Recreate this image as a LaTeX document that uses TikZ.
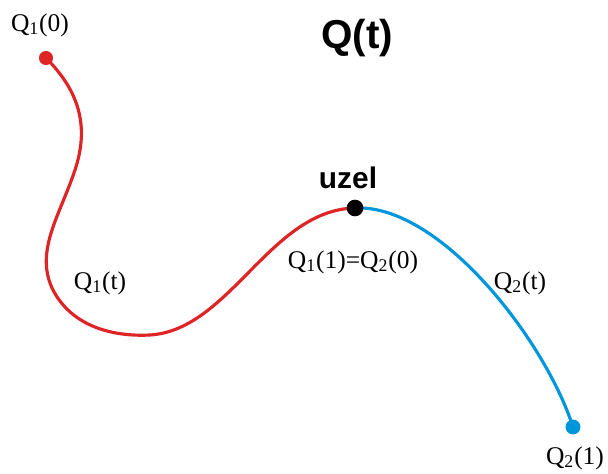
\documentclass[tikz,border=0pt]{standalone}
\usepackage{fontspec}
\setmainfont{Liberation Serif}
\setsansfont{Liberation Sans}
\definecolor{qred}{RGB}{222,36,36}
\definecolor{qblue}{RGB}{0,150,220}
\tikzset{
  dot/.style={circle,fill=#1,inner sep=0pt,minimum size=8pt},
  lbl/.style={font=\fontsize{14.5}{16}\selectfont},
  bold/.style={font=\sffamily\bfseries\fontsize{#1}{#1}\selectfont},
  curve/.style={line width=1.8pt}
}

\begin{document}
\begin{tikzpicture}[x=0.02cm,y=-0.02cm]
  \useasboundingbox (0,0) rectangle (608,473);
  \coordinate (q10) at (46,58);
  \coordinate (knot) at (355,208);
  \coordinate (q21) at (573,427);
  \draw[curve,qred] (q10) .. controls (78,90) and (90,125) .. (75,170)
    .. controls (60,215) and (35,250) .. (52,288)
    .. controls (70,325) and (110,337) .. (150,335)
    .. controls (230,330) and (270,210) .. (knot);
  \draw[curve,qblue] (knot) .. controls (440,204) and (545,340) .. (q21);
  \node[dot=qred] (d10) at (q10) {};
  \node[dot=black,minimum size=9.5pt] (dknot) at (knot) {};
  \node[dot=qblue,minimum size=8.5pt] (d21) at (q21) {};
  \node[lbl] (l10) at (40,25) {Q\textsubscript{1}(0)};
  \node[bold=23] (title) at (357,38) {Q(t)};
  \node[bold=17] (uzel) at (348,178) {uzel};
  \node[lbl] (l1120) at (353,262) {Q\textsubscript{1}(1)=Q\textsubscript{2}(0)};
  \node[lbl] (l1t) at (100,283) {Q\textsubscript{1}(t)};
  \node[lbl] (l2t) at (520,283) {Q\textsubscript{2}(t)};
  \node[lbl] (l21) at (575,458) {Q\textsubscript{2}(1)};
\end{tikzpicture}
\end{document}
